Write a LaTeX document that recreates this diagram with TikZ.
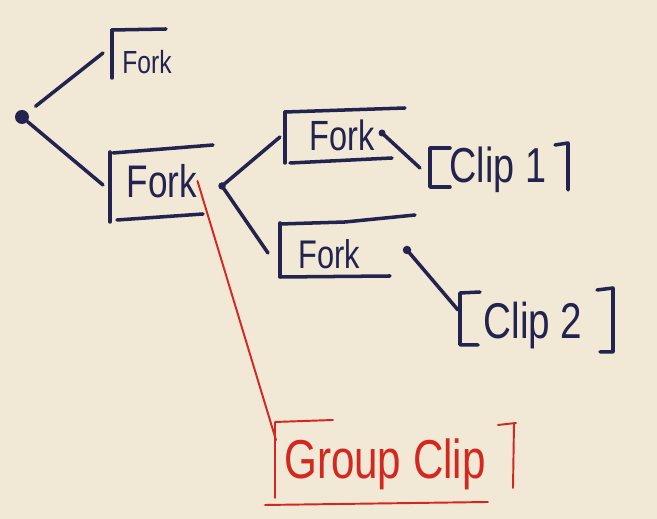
\documentclass[tikz,border=0pt]{standalone}
\usepackage{fontspec}
\setmainfont{Liberation Sans}
\usepackage{graphicx}
\definecolor{paper}{HTML}{F1E8D6}
\definecolor{ink}{HTML}{22234F}
\definecolor{redink}{HTML}{D4271F}
\newcommand\handtxt[2]{\fontsize{#1}{#1}\selectfont\scalebox{1}[1.3]{#2}}
\tikzset{
  pen/.style={draw=ink, line width=2pt, line cap=round, line join=round},
  redpen/.style={draw=redink, line width=1.1pt, line cap=round, line join=round},
  blob/.style={circle, fill=ink, inner sep=0pt, minimum size=#1},
  txt/.style={inner sep=0pt, text=ink},
  redtxt/.style={inner sep=0pt, text=redink},
}
\begin{document}
\begin{tikzpicture}[x=0.02cm,y=-0.02cm]
\fill[paper] (0,0) rectangle (657,519);
\useasboundingbox (0,0) rectangle (657,519);

% dots
\node[blob=0.28cm] (root) at (22,117) {};
\node[blob=0.15cm] (d2) at (222,186) {};
\node[blob=0.14cm] (d3) at (382,133) {};
\node[blob=0.17cm] (d4) at (407,250) {};

% texts
\node[txt] (f1) at (147,62) {\handtxt{14pt}{Fork}};
\node[txt] (f2) at (162,181) {\handtxt{20pt}{Fork}};
\node[txt] (f3) at (342,135) {\handtxt{18.5pt}{Fork}};
\node[txt] (f4) at (329,254) {\handtxt{17.5pt}{Fork}};
\node[txt] (c1) at (498,170) {\handtxt{21.5pt}{Clip 1}};
\node[txt] (c2) at (533,326) {\handtxt{22pt}{Clip 2}};
\node[redtxt] (g) at (385,464) {\handtxt{24pt}{Group Clip}};

% box outlines and brackets
\draw[pen] (112,30) -- (112,78);
\draw[pen] (112,30) -- (166,29);
\draw[pen] (110,152) -- (110,222);
\draw[pen] (113,153) -- (213,145);
\draw[pen] (117,220) -- (203,214);
\draw[pen] (285,112) -- (285,163);
\draw[pen] (285,112) -- (405,108);
\draw[pen] (290,163) -- (392,158);
\draw[pen] (280,223) -- (280,277);
\draw[pen] (280,224) -- (345,222) -- (415,215);
\draw[pen] (280,277) -- (390,276);
\draw[pen] (450,148) -- (430,148) -- (430,187) -- (450,187);
\draw[pen] (555,145) -- (568,143) -- (568,190);
\draw[pen] (480,292) -- (460,293) -- (460,345) -- (478,345);
\draw[pen] (597,290) -- (613,288) -- (613,352) -- (600,352);
\draw[redpen] (275,498) -- (275,422) -- (333,420);
\draw[redpen] (265,505) -- (488,502);
\draw[redpen] (498,425) -- (516,423);
\draw[redpen] (514,424) -- (513,488);

% connector end points
\coordinate (f1in) at (103,53);
\coordinate (f2in) at (103,185);
\coordinate (f3in) at (280,137);
\coordinate (f4in) at (268,253);
\coordinate (c1in) at (420,168);
\coordinate (c2in) at (458,310);
\coordinate (gin) at (276,440);

% connectors
\draw[pen, shorten <=0.2cm] (root) -- (f1in);
\draw[pen] (root) -- (f2in);
\draw[pen] (d2.center) -- (f3in);
\draw[pen] (d2.center) -- (f4in);
\draw[pen] (d3.center) -- (c1in);
\draw[pen] (d4.center) -- (c2in);
\draw[redpen] (f2.east) -- (gin);
\end{tikzpicture}
\end{document}
